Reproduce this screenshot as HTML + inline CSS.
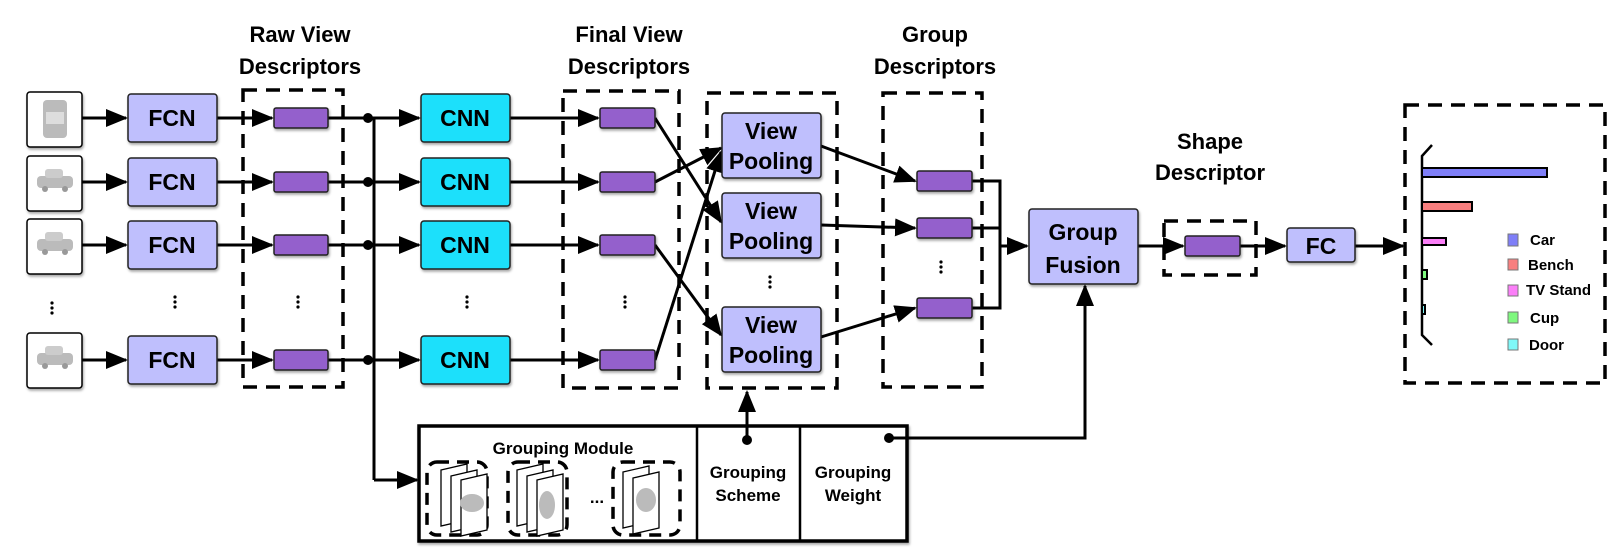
<!DOCTYPE html>
<html><head><meta charset="utf-8"><style>
html,body{margin:0;padding:0;background:#fff;}
svg{display:block;}
text{font-family:"Liberation Sans",sans-serif;font-weight:bold;fill:#000;}
</style></head><body>
<svg width="1624" height="556" viewBox="0 0 1624 556" xmlns="http://www.w3.org/2000/svg">
<defs>
<marker id="ab" markerWidth="22" markerHeight="18" refX="20" refY="9" orient="auto" markerUnits="userSpaceOnUse" viewBox="0 0 22 18">
<path d="M0,0 L22,9 L0,18 z" fill="#000"/></marker>
<filter id="sh"><feDropShadow dx="1" dy="2" stdDeviation="1.2" flood-opacity="0.35"/></filter>
<g id="car"><rect x="-18" y="-8" width="36" height="12" rx="4" fill="#bbb"/><rect x="-10" y="-15" width="18" height="9" rx="3" fill="#ccc"/><circle cx="-10" cy="5" r="3" fill="#999"/><circle cx="10" cy="5" r="3" fill="#999"/></g>
</defs>

<g font-size="22" text-anchor="middle">
<text x="300" y="42">Raw View</text><text x="300" y="74">Descriptors</text>
<text x="629" y="42">Final View</text><text x="629" y="74">Descriptors</text>
<text x="935" y="42">Group</text><text x="935" y="74">Descriptors</text>
<text x="1210" y="149">Shape</text><text x="1210" y="180">Descriptor</text>
</g>

<g fill="none" stroke="#000" stroke-width="3.5" stroke-dasharray="14,9">
<rect x="243" y="90" width="100" height="297"/>
<rect x="563" y="91" width="116" height="297"/>
<rect x="707" y="93" width="130" height="295"/>
<rect x="883" y="93" width="99" height="294"/>
<rect x="1164" y="221" width="92" height="54"/>
<rect x="1405" y="105" width="200" height="278"/>
</g>

<!-- grouping module base -->
<g fill="none" stroke="#000">
<rect x="419" y="426" width="488" height="115" stroke-width="3.5" filter="url(#sh)" fill="#fff"/>
<path d="M697 426V541M800 426V541" stroke-width="2.5"/>
<g stroke-width="3.5" stroke-dasharray="12,8">
<rect x="427" y="462" width="60" height="73" rx="10"/>
<rect x="508" y="462" width="59" height="73" rx="10"/>
<rect x="613" y="462" width="67" height="73" rx="10"/>
</g>
<g stroke-width="1.3" fill="#fff">
<path d="M441 470L467 464V520L441 526Z"/><path d="M451 476L477 470V526L451 532Z"/><path d="M461 480L487 474V530L461 536Z"/>
<path d="M517 470L543 464V520L517 526Z"/><path d="M527 476L553 470V526L527 532Z"/><path d="M537 480L563 474V530L537 536Z"/>
<path d="M623 472L649 466V522L623 528Z"/><path d="M633 478L659 472V528L633 534Z"/>
</g>
</g>
<g fill="#bbb">
<ellipse cx="472" cy="503" rx="12" ry="9"/><ellipse cx="547" cy="505" rx="8" ry="14"/><ellipse cx="646" cy="500" rx="10" ry="12"/>
</g>
<g font-size="17" text-anchor="middle">
<text x="563" y="454">Grouping Module</text>
<text x="597" y="503">...</text>
<text x="748" y="478">Grouping</text><text x="748" y="501">Scheme</text>
<text x="853" y="478">Grouping</text><text x="853" y="501">Weight</text>
</g>

<g stroke="#000" stroke-width="3" fill="none" marker-end="url(#ab)">
<path d="M82 118H126"/><path d="M82 182H126"/><path d="M82 245H126"/><path d="M82 360H126"/>
<path d="M217 118H272"/><path d="M217 182H272"/><path d="M217 245H272"/><path d="M217 360H272"/>
<path d="M328 118H419"/><path d="M328 182H419"/><path d="M328 245H419"/><path d="M328 360H419"/>
<path d="M510 118H598"/><path d="M510 182H598"/><path d="M510 245H598"/><path d="M510 360H598"/>
<path d="M374 480H417"/>
<path d="M655 118L721 222"/>
<path d="M655 182L721 148"/>
<path d="M655 245L721 335"/>
<path d="M655 360L721 152"/>
<path d="M821 146L915 181"/>
<path d="M821 225L915 228"/>
<path d="M821 337L915 308"/>
<path d="M1000 246H1027"/>
<path d="M1138 246H1183"/>
<path d="M1240 246H1285"/>
<path d="M1355 246H1403"/>
<path d="M747 440V392"/>
<path d="M889 438H1085V286"/>
</g>
<g stroke="#000" stroke-width="3" fill="none">
<path d="M374 118V480"/>
<path d="M972 181H1000V308H972M972 228H1000"/>
</g>
<g fill="#000">
<circle cx="368" cy="118" r="5"/><circle cx="368" cy="182" r="5"/><circle cx="368" cy="245" r="5"/><circle cx="368" cy="360" r="5"/>
<circle cx="747" cy="440" r="5"/><circle cx="889" cy="438" r="5"/>
</g>

<g>
<g transform="translate(27,92)"><rect width="55" height="55" rx="3" fill="#fff" stroke="#000" stroke-width="1.5" filter="url(#sh)"/><rect x="16" y="8" width="24" height="38" rx="4" fill="#bbb"/><rect x="19" y="20" width="18" height="12" fill="#ddd"/></g>
<g transform="translate(27,156)"><rect width="55" height="55" rx="3" fill="#fff" stroke="#000" stroke-width="1.5" filter="url(#sh)"/><use href="#car" x="28" y="28"/></g>
<g transform="translate(27,219)"><rect width="55" height="55" rx="3" fill="#fff" stroke="#000" stroke-width="1.5" filter="url(#sh)"/><use href="#car" x="28" y="28"/></g>
<g transform="translate(27,333)"><rect width="55" height="55" rx="3" fill="#fff" stroke="#000" stroke-width="1.5" filter="url(#sh)"/><use href="#car" x="28" y="28"/></g>
</g>

<g stroke="#222" stroke-width="1.5" filter="url(#sh)">
<rect x="128" y="94" width="89" height="48" rx="3" fill="#bfbffd"/>
<rect x="128" y="158" width="89" height="48" rx="3" fill="#bfbffd"/>
<rect x="128" y="221" width="89" height="48" rx="3" fill="#bfbffd"/>
<rect x="128" y="336" width="89" height="48" rx="3" fill="#bfbffd"/>
<rect x="421" y="94" width="89" height="48" rx="3" fill="#1ce0fb"/>
<rect x="421" y="158" width="89" height="48" rx="3" fill="#1ce0fb"/>
<rect x="421" y="221" width="89" height="48" rx="3" fill="#1ce0fb"/>
<rect x="421" y="336" width="89" height="48" rx="3" fill="#1ce0fb"/>
<rect x="722" y="113" width="99" height="65" rx="3" fill="#bfbffd"/>
<rect x="722" y="193" width="99" height="65" rx="3" fill="#bfbffd"/>
<rect x="722" y="307" width="99" height="65" rx="3" fill="#bfbffd"/>
<rect x="1029" y="209" width="109" height="75" rx="3" fill="#bfbffd"/>
<rect x="1287" y="228" width="68" height="34" rx="3" fill="#bfbffd"/>
</g>
<g font-size="23" text-anchor="middle">
<text x="172" y="126">FCN</text><text x="172" y="190">FCN</text><text x="172" y="253">FCN</text><text x="172" y="368">FCN</text>
<text x="465" y="126">CNN</text><text x="465" y="190">CNN</text><text x="465" y="253">CNN</text><text x="465" y="368">CNN</text>
<text x="771" y="139">View</text><text x="771" y="169">Pooling</text>
<text x="771" y="219">View</text><text x="771" y="249">Pooling</text>
<text x="771" y="333">View</text><text x="771" y="363">Pooling</text>
<text x="1083" y="240">Group</text><text x="1083" y="273">Fusion</text>
<text x="1321" y="254">FC</text>
</g>

<g fill="#9460cc" stroke="#222" stroke-width="1.5" filter="url(#sh)">
<rect x="274" y="108" width="54" height="20" rx="2"/><rect x="274" y="172" width="54" height="20" rx="2"/><rect x="274" y="235" width="54" height="20" rx="2"/><rect x="274" y="350" width="54" height="20" rx="2"/>
<rect x="600" y="108" width="55" height="20" rx="2"/><rect x="600" y="172" width="55" height="20" rx="2"/><rect x="600" y="235" width="55" height="20" rx="2"/><rect x="600" y="350" width="55" height="20" rx="2"/>
<rect x="917" y="171" width="55" height="20" rx="2"/><rect x="917" y="218" width="55" height="20" rx="2"/><rect x="917" y="298" width="55" height="20" rx="2"/>
<rect x="1185" y="236" width="55" height="20" rx="2"/>
</g>

<g fill="#000">
<g transform="translate(52,303)"><circle cx="0" cy="0" r="1.6"/><circle cx="0" cy="5" r="1.6"/><circle cx="0" cy="10" r="1.6"/></g>
<g transform="translate(175,297)"><circle cx="0" cy="0" r="1.6"/><circle cx="0" cy="5" r="1.6"/><circle cx="0" cy="10" r="1.6"/></g>
<g transform="translate(298,297)"><circle cx="0" cy="0" r="1.6"/><circle cx="0" cy="5" r="1.6"/><circle cx="0" cy="10" r="1.6"/></g>
<g transform="translate(467,297)"><circle cx="0" cy="0" r="1.6"/><circle cx="0" cy="5" r="1.6"/><circle cx="0" cy="10" r="1.6"/></g>
<g transform="translate(625,297)"><circle cx="0" cy="0" r="1.6"/><circle cx="0" cy="5" r="1.6"/><circle cx="0" cy="10" r="1.6"/></g>
<g transform="translate(770,277)"><circle cx="0" cy="0" r="1.6"/><circle cx="0" cy="5" r="1.6"/><circle cx="0" cy="10" r="1.6"/></g>
<g transform="translate(941,262)"><circle cx="0" cy="0" r="1.6"/><circle cx="0" cy="5" r="1.6"/><circle cx="0" cy="10" r="1.6"/></g>
</g>

<g stroke="#000" stroke-width="2.5" fill="none">
<path d="M1432 145L1422 156V335L1432 345"/>
</g>
<g stroke="#000" stroke-width="2">
<rect x="1422" y="168" width="125" height="9" fill="#7f7ff8"/>
<rect x="1422" y="202" width="50" height="9" fill="#f87f7f"/>
<rect x="1422" y="238" width="24" height="7" fill="#fb7ff8"/>
<rect x="1422" y="270" width="5" height="9" fill="#7ff87f"/>
<rect x="1422" y="305" width="3" height="9" fill="#7ff8f8"/>
</g>
<g stroke="#777" stroke-width="1">
<rect x="1508" y="234" width="10" height="12" fill="#7f7ff8"/>
<rect x="1508" y="259" width="10" height="11" fill="#f87f7f"/>
<rect x="1508" y="285" width="10" height="11" fill="#fb7ff8"/>
<rect x="1508" y="312" width="10" height="11" fill="#7ff87f"/>
<rect x="1508" y="339" width="10" height="11" fill="#7ff8f8"/>
</g>
<g font-size="15">
<text x="1530" y="245">Car</text>
<text x="1528" y="270">Bench</text>
<text x="1526" y="295">TV Stand</text>
<text x="1530" y="323">Cup</text>
<text x="1529" y="350">Door</text>
</g>
</svg>
</body></html>
